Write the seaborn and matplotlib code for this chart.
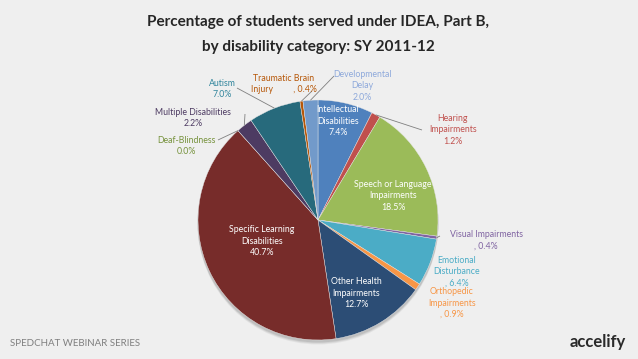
import numpy as np
import matplotlib
matplotlib.use("Agg")
import matplotlib.pyplot as plt
from matplotlib.patches import Circle
import seaborn as sns

categories = ["Intellectual Disabilities", "Hearing Impairments", "Speech or Language Impairments",
              "Visual Impairments", "Emotional Disturbance", "Orthopedic Impairments",
              "Other Health Impairments", "Specific Learning Disabilities", "Deaf-Blindness",
              "Multiple Disabilities", "Autism", "Traumatic Brain Injury", "Developmental Delay"]
values = [7.4, 1.2, 18.5, 0.4, 6.4, 0.9, 12.7, 40.7, 0.0, 2.2, 7.0, 0.4, 2.0]
label_texts = ["Intellectual\nDisabilities\n7.4%", "Hearing\nImpairments\n1.2%",
               "Speech or Language\nImpairments\n18.5%", "Visual Impairments\n, 0.4%",
               "Emotional\nDisturbance\n, 6.4%", "Orthopedic\nImpairments\n, 0.9%",
               "Other Health\nImpairments\n12.7%", "Specific Learning\nDisabilities\n40.7%",
               "Deaf-Blindness\n0.0%", "Multiple Disabilities\n2.2%", "Autism\n7.0%",
               "Traumatic Brain\nInjury         , 0.4%", "Developmental\nDelay\n2.0%"]
colors = ["#4F81BD", "#C0504D", "#9BBB59", "#8064A2", "#4BACC6", "#F79646",
          "#2C4D75", "#772C2A", "#5F7530", "#4D3B62", "#276A7C", "#B65708", "#729ACA"]
label_colors = ["white", "#C0504D", "white", "#8064A2", "#4BACC6", "#F79646",
                "white", "white", "#76923C", "#4D3B62", "#31859C", "#B65708", "#8EA9DB"]

sns.set_theme(style="white")
plt.rcParams['font.family'] = ['Lato', 'DejaVu Sans']

W, H = 638, 359
fig = plt.figure(figsize=(W / 100, H / 100), dpi=100)
bg = "#EFEFEF"
fig.patch.set_facecolor(bg)
ax = fig.add_axes([0, 0, 1, 1])
ax.set_facecolor(bg)

cx, cy, R = 318, H - 220, 120
# soft shadow under the pie
for k, a in [(4, 0.05), (3, 0.07), (2, 0.09)]:
    ax.add_patch(Circle((cx, cy - k), R + 0.5, facecolor="#000000", alpha=a,
                        edgecolor="none", zorder=0))
pal = sns.color_palette(colors)
wedges, _ = ax.pie(values, colors=pal, startangle=90, counterclock=False,
                   center=(cx, cy), radius=R,
                   wedgeprops=dict(edgecolor="#e8e8e8", linewidth=0.3))
ax.set_xlim(0, W)
ax.set_ylim(0, H)
ax.set_aspect("equal")
ax.axis("off")

# label positions in pixel coords (x, y from top)
pos = {0: (338, 121), 1: (453, 130), 2: (393, 196), 3: (486, 240), 4: (457, 272),
       5: (452, 303), 6: (356, 293), 7: (262, 241), 8: (186, 146), 9: (193, 118),
       10: (222, 89), 11: (284, 84), 12: (362, 86)}
# leader line label-side endpoints
leaders = {1: (422, 130), 3: (440, 236), 8: (218, 140), 9: (245, 114), 10: (237, 88),
           11: (312, 91), 12: (334, 76)}

for i, w in enumerate(wedges):
    px, py = pos[i]
    ax.text(px, H - py, label_texts[i], ha="center", va="center", fontsize=6.3,
            color=label_colors[i], linespacing=1.35)
    if i in leaders:
        ang = np.deg2rad((w.theta1 + w.theta2) / 2)
        ex = cx + R * np.cos(ang)
        ey = cy + R * np.sin(ang)
        lx, ly = leaders[i]
        ax.plot([lx, ex], [H - ly, ey], color="#7f7f7f", lw=0.6, solid_capstyle="butt")

fig.text(318 / W, 1 - 22 / H, "Percentage of students served under IDEA, Part B,",
         ha="center", va="center", fontsize=11, fontweight="bold", color="#262626")
fig.text(318 / W, 1 - 47 / H, "by disability category: SY 2011-12",
         ha="center", va="center", fontsize=11, fontweight="bold", color="#262626")

fig.text(10 / W, 1 - 343 / H, "SPEDCHAT WEBINAR SERIES", ha="left", va="center",
         fontsize=7, color="#7f7f7f")
fig.text(626 / W, 1 - 342 / H, "accelify", ha="right", va="center",
         fontsize=12, color="#2a2a2a", fontweight="bold")

fig.savefig("out.png", dpi=100, facecolor=bg)
